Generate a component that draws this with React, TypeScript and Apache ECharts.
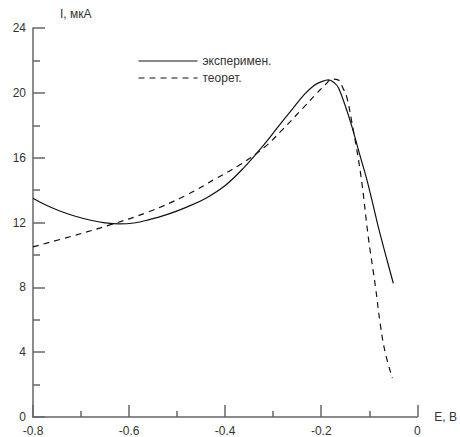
import React, { useEffect, useRef } from "react";
import * as echarts from "echarts";

const expE = [-0.8, -0.77, -0.74, -0.71, -0.68, -0.65, -0.62, -0.59, -0.56, -0.52, -0.48, -0.44, -0.4, -0.36, -0.32, -0.29, -0.26, -0.235, -0.215, -0.2, -0.185, -0.172, -0.164, -0.15, -0.136, -0.12, -0.106, -0.093, -0.081, -0.065, -0.05];
const expI = [13.5, 13.03, 12.66, 12.37, 12.14, 11.98, 11.91, 11.97, 12.16, 12.5, 12.95, 13.5, 14.28, 15.42, 16.78, 17.9, 19.0, 19.9, 20.45, 20.68, 20.8, 20.6, 20.3, 19.2, 17.9, 16.2, 14.75, 13.2, 11.7, 9.9, 8.25];

const theoE = [-0.8, -0.72, -0.64, -0.56, -0.48, -0.42, -0.37, -0.32, -0.28, -0.24, -0.21, -0.19, -0.178, -0.165, -0.155, -0.147, -0.137, -0.118, -0.102, -0.087, -0.077, -0.067, -0.052];
const theoI = [10.5, 11.15, 11.85, 12.65, 13.7, 14.7, 15.55, 16.6, 17.75, 19.0, 19.95, 20.55, 20.85, 20.8, 20.3, 19.75, 18.3, 15.0, 11.1, 8.0, 5.7, 4.0, 2.4];

const seriesNames = ["эксперимен.", "теорет."];
const xAxisName = "E, В";
const yAxisName = "I, мкА";

export default function App() {
  const ref = useRef<HTMLDivElement>(null);
  useEffect(() => {
    if (!ref.current) return;
    const chart = echarts.init(ref.current, null, { renderer: "svg" });
    const font = "'Liberation Sans', Arial, sans-serif";
    const axisColor = "#666";
    chart.setOption({
      animation: false,
      backgroundColor: "#fff",
      textStyle: { fontFamily: font },
      grid: { left: 33, right: 41, top: 28, bottom: 20, containLabel: false },
      legend: {
        orient: "vertical",
        left: 133,
        top: 50,
        itemWidth: 59,
        itemHeight: 14,
        itemGap: 5,
        itemStyle: { color: "rgba(0,0,0,0)", borderWidth: 0, opacity: 0 },
        lineStyle: { width: 1 },
        textStyle: { fontSize: 12, color: "#333", fontFamily: font },
        data: seriesNames,
      },
      xAxis: {
        type: "value",
        min: -0.8,
        max: 0,
        interval: 0.2,
        name: xAxisName,
        nameLocation: "end",
        nameGap: 17,
        nameTextStyle: { fontSize: 12, color: "#333", padding: [0, 0, 14, 0], fontFamily: font },
        axisLine: { show: true, onZero: false, lineStyle: { color: axisColor, width: 1.5 } },
        axisTick: { show: true, inside: true, length: 12, lineStyle: { color: axisColor, width: 1.5 } },
        minorTick: { show: true, splitNumber: 2, length: 6, lineStyle: { color: axisColor, width: 1.5 } },
        axisLabel: {
          fontSize: 12,
          color: "#333",
          margin: 8,
          fontFamily: font,
          formatter: (v: number) => (Math.abs(v) < 1e-9 ? "0" : String(Math.round(v * 10) / 10)),
        },
        splitLine: { show: false },
      },
      yAxis: {
        type: "value",
        min: 0,
        max: 24,
        interval: 4,
        name: yAxisName,
        nameLocation: "end",
        nameGap: 8,
        nameTextStyle: { fontSize: 12, color: "#333", align: "left", padding: [0, 0, 0, 27], fontFamily: font },
        axisLine: { show: true, onZero: false, lineStyle: { color: axisColor, width: 1.5 } },
        axisTick: { show: true, inside: true, length: 12, lineStyle: { color: axisColor, width: 1.5 } },
        minorTick: { show: true, splitNumber: 2, length: 7, lineStyle: { color: axisColor, width: 1.5 } },
        axisLabel: { fontSize: 12, color: "#333", margin: 7, fontFamily: font },
        splitLine: { show: false },
      },
      series: [
        {
          name: seriesNames[0],
          type: "line",
          data: expE.map((e, i) => [e, expI[i]]),
          symbol: "none",
          smooth: 0.4,
          lineStyle: { color: "#111", width: 1.2, type: "solid" },
          itemStyle: { color: "#111" },
        },
        {
          name: seriesNames[1],
          type: "line",
          data: theoE.map((e, i) => [e, theoI[i]]),
          symbol: "none",
          smooth: 0.4,
          lineStyle: { color: "#111", width: 1.2, type: [6, 5] },
          itemStyle: { color: "#111" },
        },
      ],
    });
    return () => chart.dispose();
  }, []);
  return (
    <div
      ref={ref}
      style={{ position: "fixed", left: 0, top: 0, width: 460, height: 437 }}
    />
  );
}
